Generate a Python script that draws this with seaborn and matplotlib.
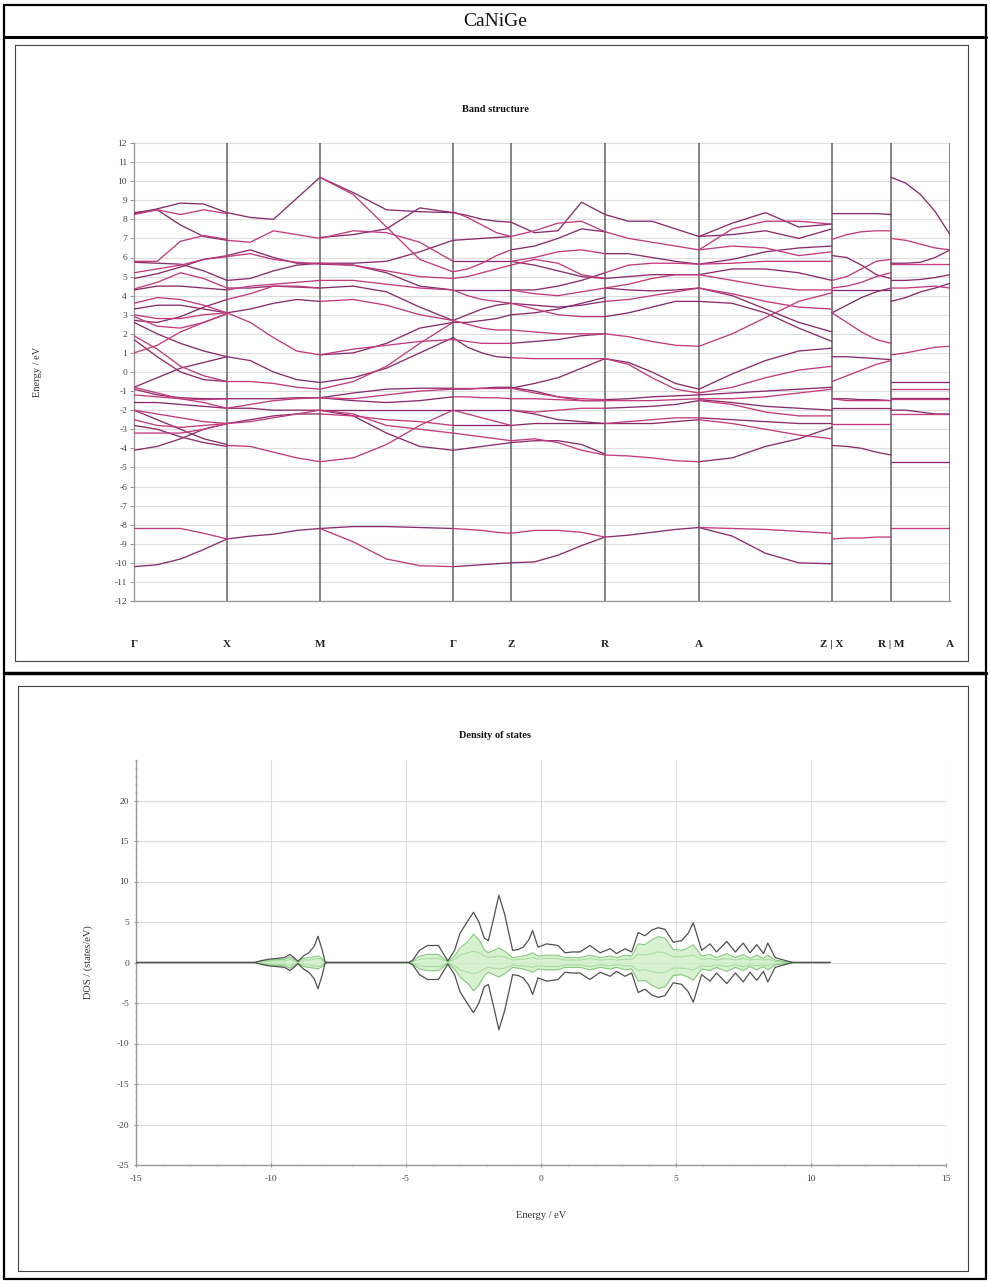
import numpy as np
import pandas as pd
import matplotlib
matplotlib.use('Agg')
import matplotlib.pyplot as plt
import seaborn as sns
from matplotlib.lines import Line2D
from matplotlib.ticker import MultipleLocator

# ---------------- data ----------------
title_main = "CaNiGe"
kpath = [0, 93, 186, 319, 377, 471, 565, 698, 757, 816]
klabels = ['Γ', 'X', 'M', 'Γ', 'Z', 'R', 'A', 'Z | X', 'R | M', 'A']
frac = [0.0, 0.25, 0.5, 0.75, 1.0]

bands_G_X = [
    [8.30, 8.55, 8.85, 8.80, 8.35], [8.25, 8.50, 8.25, 8.50, 8.30],
    [8.35, 8.50, 7.70, 7.10, 6.90], [5.80, 5.80, 6.85, 7.15, 6.95],
    [5.75, 5.70, 5.65, 5.30, 4.80], [5.20, 5.40, 5.60, 5.90, 6.10],
    [4.90, 5.15, 5.50, 5.90, 6.05], [4.35, 4.70, 5.20, 4.90, 4.40],
    [4.30, 4.50, 4.50, 4.40, 4.30], [3.60, 3.90, 3.80, 3.50, 3.10],
    [3.30, 3.50, 3.50, 3.30, 3.10], [3.00, 2.80, 2.80, 3.00, 3.10],
    [2.70, 2.60, 2.90, 3.40, 3.80], [2.90, 2.40, 2.30, 2.60, 3.05],
    [2.60, 2.00, 1.50, 1.10, 0.80], [1.90, 1.20, 0.30, -0.20, -0.50],
    [1.70, 0.80, 0.00, -0.40, -0.50], [1.00, 1.40, 2.10, 2.60, 3.05],
    [-0.80, -0.30, 0.20, 0.50, 0.80], [-0.80, -1.10, -1.40, -1.60, -1.90],
    [-0.90, -1.20, -1.35, -1.40, -1.40], [-1.20, -1.30, -1.40, -1.45, -1.40],
    [-1.60, -1.60, -1.70, -1.80, -1.90], [-2.00, -2.20, -2.40, -2.60, -2.70],
    [-2.00, -2.50, -3.00, -3.50, -3.80], [-2.50, -2.80, -2.90, -2.80, -2.70],
    [-2.80, -3.00, -3.40, -3.70, -3.90], [-3.20, -3.20, -3.20, -3.00, -2.70],
    [-4.10, -3.90, -3.50, -3.00, -2.70], [-8.20, -8.20, -8.20, -8.45, -8.75],
    [-10.20, -10.10, -9.80, -9.30, -8.75],
]
bands_X_M = [
    [8.35, 8.10, 8.00, 9.10, 10.20], [6.90, 6.80, 7.40, 7.20, 7.00],
    [6.10, 6.40, 6.00, 5.70, 5.70], [6.05, 6.20, 5.90, 5.75, 5.65],
    [4.80, 4.90, 5.30, 5.60, 5.70], [4.30, 4.50, 4.60, 4.70, 4.80],
    [4.40, 4.40, 4.50, 4.45, 4.40], [3.80, 4.10, 4.50, 4.50, 4.40],
    [3.10, 3.30, 3.60, 3.80, 3.70], [3.10, 2.60, 1.80, 1.10, 0.90],
    [0.80, 0.60, 0.00, -0.40, -0.55], [-0.50, -0.50, -0.60, -0.80, -0.90],
    [-1.40, -1.40, -1.40, -1.35, -1.35], [-1.90, -1.70, -1.50, -1.40, -1.35],
    [-1.90, -1.90, -2.00, -2.00, -2.00], [-2.70, -2.60, -2.40, -2.20, -2.00],
    [-2.70, -2.50, -2.30, -2.20, -2.20], [-3.85, -3.90, -4.20, -4.50, -4.70],
    [-8.75, -8.60, -8.50, -8.30, -8.20],
]
bands_M_G = [
    [10.20, 9.40, 8.50, 8.40, 8.35], [10.20, 9.30, 7.60, 5.90, 5.25],
    [7.05, 7.20, 7.50, 8.60, 8.35], [7.00, 7.40, 7.30, 6.80, 5.80],
    [5.70, 5.70, 5.80, 6.30, 6.90], [5.70, 5.60, 5.30, 5.00, 4.90],
    [5.65, 5.60, 5.20, 4.50, 4.30], [4.80, 4.80, 4.60, 4.40, 4.30],
    [4.40, 4.50, 4.20, 3.40, 2.70], [3.70, 3.80, 3.50, 3.00, 2.70],
    [0.90, 1.00, 1.50, 2.30, 2.60], [0.90, 1.20, 1.40, 1.60, 1.70],
    [-0.55, -0.30, 0.20, 1.00, 1.80], [-0.90, -0.50, 0.30, 1.50, 2.60],
    [-1.35, -1.10, -0.90, -0.85, -0.85], [-1.35, -1.40, -1.20, -1.00, -0.90],
    [-1.35, -1.50, -1.60, -1.50, -1.30], [-2.00, -2.20, -2.80, -3.00, -3.20],
    [-2.00, -2.30, -3.20, -3.90, -4.10], [-2.20, -2.30, -2.50, -2.60, -2.80],
    [-2.00, -2.00, -2.00, -2.00, -2.00], [-4.70, -4.50, -3.80, -2.80, -2.00],
    [-8.20, -8.10, -8.10, -8.15, -8.20], [-8.20, -8.90, -9.80, -10.15, -10.20],
]
bands_G_Z = [
    [8.35, 8.20, 8.00, 7.90, 7.85], [8.40, 8.10, 7.70, 7.30, 7.10],
    [6.90, 6.95, 7.00, 7.05, 7.10], [5.25, 5.40, 5.70, 6.10, 6.40],
    [5.80, 5.80, 5.80, 5.80, 5.80], [4.90, 5.00, 5.20, 5.40, 5.60],
    [4.30, 4.30, 4.30, 4.30, 4.30], [4.30, 4.00, 3.80, 3.70, 3.60],
    [2.70, 3.00, 3.30, 3.50, 3.60], [2.70, 2.50, 2.30, 2.20, 2.20],
    [2.60, 2.60, 2.70, 2.80, 3.00], [1.70, 1.60, 1.50, 1.50, 1.50],
    [1.80, 1.30, 1.00, 0.80, 0.75], [-0.85, -0.85, -0.85, -0.85, -0.85],
    [-0.90, -0.90, -0.85, -0.80, -0.80], [-1.30, -1.30, -1.35, -1.35, -1.40],
    [-2.00, -2.00, -2.00, -2.00, -2.00], [-2.00, -2.20, -2.40, -2.60, -2.80],
    [-2.80, -2.80, -2.80, -2.80, -2.80], [-3.20, -3.30, -3.40, -3.50, -3.60],
    [-4.10, -4.00, -3.90, -3.80, -3.70], [-8.20, -8.25, -8.30, -8.40, -8.45],
    [-10.20, -10.15, -10.10, -10.05, -10.00],
]
bands_Z_R = [
    [7.85, 7.30, 7.40, 8.90, 8.25], [7.10, 7.40, 7.80, 7.90, 7.35],
    [6.40, 6.60, 7.00, 7.50, 7.35], [5.80, 6.00, 6.30, 6.40, 6.20],
    [5.80, 5.60, 5.30, 5.00, 4.90], [5.60, 5.90, 5.70, 5.10, 4.90],
    [4.30, 4.30, 4.50, 4.80, 5.20], [4.30, 4.10, 4.00, 4.20, 4.40],
    [3.60, 3.50, 3.40, 3.50, 3.70], [3.60, 3.30, 3.00, 2.90, 2.90],
    [3.00, 3.10, 3.30, 3.60, 3.90], [2.20, 2.10, 2.00, 2.00, 2.00],
    [1.50, 1.60, 1.70, 1.90, 2.00], [0.75, 0.70, 0.70, 0.70, 0.70],
    [-0.85, -0.60, -0.30, 0.20, 0.70], [-0.85, -1.10, -1.30, -1.40, -1.45],
    [-0.80, -1.00, -1.30, -1.50, -1.50], [-1.40, -1.40, -1.45, -1.50, -1.50],
    [-2.00, -2.20, -2.50, -2.60, -2.70], [-2.00, -2.10, -2.00, -1.90, -1.90],
    [-2.80, -2.70, -2.70, -2.70, -2.70], [-3.60, -3.50, -3.70, -4.10, -4.35],
    [-3.70, -3.60, -3.60, -3.80, -4.30], [-8.45, -8.30, -8.30, -8.40, -8.65],
    [-10.00, -9.95, -9.60, -9.10, -8.65],
]
bands_R_A = [
    [8.25, 7.90, 7.90, 7.50, 7.10], [7.35, 7.00, 6.80, 6.60, 6.40],
    [6.20, 6.20, 6.00, 5.80, 5.65], [5.20, 5.60, 5.70, 5.70, 5.65],
    [4.90, 5.00, 5.10, 5.10, 5.10], [4.40, 4.60, 4.90, 5.10, 5.10],
    [4.40, 4.30, 4.25, 4.30, 4.40], [3.70, 3.80, 4.00, 4.20, 4.40],
    [2.90, 3.10, 3.40, 3.70, 3.70], [2.00, 1.85, 1.60, 1.40, 1.35],
    [0.70, 0.50, 0.00, -0.60, -0.90], [0.70, 0.40, -0.30, -0.90, -1.10],
    [-1.45, -1.40, -1.30, -1.25, -1.20], [-1.50, -1.50, -1.50, -1.45, -1.40],
    [-1.90, -1.85, -1.80, -1.70, -1.50], [-2.70, -2.60, -2.50, -2.40, -2.40],
    [-2.70, -2.70, -2.70, -2.60, -2.50], [-4.35, -4.40, -4.50, -4.65, -4.70],
    [-8.65, -8.55, -8.40, -8.25, -8.15],
]
bands_A_Z = [
    [7.10, 7.80, 8.35, 7.60, 7.75], [6.40, 7.50, 7.90, 7.90, 7.75],
    [7.10, 7.20, 7.40, 7.00, 7.50], [6.40, 6.60, 6.50, 6.10, 6.30],
    [5.65, 5.90, 6.30, 6.50, 6.60], [5.65, 5.70, 5.80, 5.80, 5.80],
    [5.10, 5.40, 5.40, 5.20, 4.80], [5.10, 4.80, 4.50, 4.30, 4.30],
    [4.40, 4.00, 3.30, 2.60, 2.10], [4.40, 4.10, 3.70, 3.40, 3.30],
    [3.70, 3.60, 3.10, 2.30, 1.60], [1.35, 2.00, 2.85, 3.70, 4.15],
    [-0.90, -0.10, 0.60, 1.10, 1.25], [-1.10, -0.80, -0.30, 0.10, 0.30],
    [-1.20, -1.10, -1.00, -0.90, -0.80], [-1.40, -1.40, -1.30, -1.10, -0.90],
    [-1.45, -1.60, -1.80, -1.90, -2.00], [-1.50, -1.70, -2.10, -2.30, -2.30],
    [-2.40, -2.50, -2.60, -2.70, -2.70], [-2.50, -2.70, -3.00, -3.30, -3.50],
    [-4.70, -4.50, -3.90, -3.50, -2.90], [-8.15, -8.20, -8.25, -8.35, -8.45],
    [-8.15, -8.60, -9.50, -10.00, -10.05],
]
bands_X_R = [
    [8.30, 8.30, 8.30, 8.30, 8.25], [6.95, 7.20, 7.35, 7.40, 7.40],
    [6.10, 6.00, 5.60, 5.10, 4.90], [4.80, 5.00, 5.40, 5.80, 5.90],
    [4.30, 4.30, 4.30, 4.30, 4.30], [4.40, 4.50, 4.70, 5.00, 5.20],
    [3.10, 3.50, 3.90, 4.20, 4.40], [3.10, 2.60, 2.10, 1.70, 1.50],
    [0.80, 0.80, 0.75, 0.70, 0.65], [-0.50, -0.20, 0.10, 0.40, 0.60],
    [-1.40, -1.40, -1.45, -1.45, -1.50], [-1.40, -1.50, -1.50, -1.50, -1.50],
    [-1.90, -1.90, -1.90, -1.90, -1.90], [-2.70, -2.70, -2.70, -2.70, -2.70],
    [-3.85, -3.90, -4.00, -4.20, -4.35], [-8.75, -8.70, -8.70, -8.65, -8.65],
]
bands_M_A = [
    [10.20, 9.90, 9.30, 8.40, 7.20], [7.00, 6.90, 6.70, 6.50, 6.40],
    [5.70, 5.70, 5.75, 6.00, 6.40], [5.65, 5.65, 5.65, 5.65, 5.65],
    [4.80, 4.80, 4.85, 4.95, 5.10], [4.40, 4.40, 4.45, 4.50, 4.40],
    [3.70, 3.90, 4.20, 4.40, 4.65], [0.90, 1.00, 1.15, 1.30, 1.35],
    [-0.55, -0.55, -0.55, -0.55, -0.55], [-0.90, -0.90, -0.90, -0.90, -0.90],
    [-1.35, -1.35, -1.35, -1.35, -1.35], [-1.40, -1.40, -1.40, -1.40, -1.40],
    [-2.00, -2.00, -2.10, -2.20, -2.20], [-2.20, -2.20, -2.20, -2.20, -2.20],
    [-4.70, -4.70, -4.70, -4.70, -4.70], [-8.20, -8.20, -8.20, -8.20, -8.20],
]

dos_energy = [-15.0, -10.6, -10.4, -10.1, -9.8, -9.5, -9.3, -9.15, -9.0, -8.8,
              -8.6, -8.4, -8.26, -8.1, -8.0, -7.9, -4.9, -4.75, -4.5, -4.2,
              -3.8, -3.6, -3.45, -3.2, -3.0, -2.7, -2.5, -2.3, -2.1, -1.95,
              -1.75, -1.56, -1.35, -1.05, -0.85, -0.66, -0.45, -0.31, -0.11, 0.21,
              0.63, 0.89, 1.15, 1.44, 1.81, 2.19, 2.56, 2.8, 3.11, 3.36,
              3.6, 3.85, 4.1, 4.34, 4.59, 4.9, 5.21, 5.45, 5.64, 5.95,
              6.26, 6.5, 6.88, 7.2, 7.49, 7.74, 7.99, 8.24, 8.4, 8.67,
              9.1, 9.35, 9.6, 10.7]
dos_total = [0.0, 0.0, 0.2, 0.4, 0.5, 0.6, 1.0, 0.6, 0.15, 0.8,
             1.2, 2.0, 3.25, 1.5, 0.1, 0.0, 0.0, 0.3, 1.5, 2.1,
             2.1, 1.0, 0.2, 1.5, 3.6, 5.2, 6.2, 5.0, 3.0, 2.7,
             5.5, 8.3, 6.0, 1.5, 1.6, 1.9, 2.8, 3.95, 1.9, 2.3,
             2.1, 1.2, 1.3, 1.3, 2.1, 1.2, 1.7, 1.1, 1.7, 1.3,
             3.7, 3.3, 4.0, 4.3, 4.1, 2.5, 2.7, 3.6, 4.9, 1.5,
             2.3, 1.3, 2.6, 1.3, 2.4, 1.2, 2.2, 1.1, 2.4, 0.6,
             0.2, 0.0, 0.0, 0.0]
dos_part1 = [0.0, 0.0, 0.15, 0.3, 0.35, 0.4, 0.7, 0.4, 0.1, 0.5,
             0.6, 0.7, 0.8, 0.5, 0.05, 0.0, 0.0, 0.2, 0.8, 1.0,
             1.0, 0.5, 0.1, 0.8, 1.8, 2.6, 3.5, 2.8, 1.6, 1.2,
             1.5, 1.8, 1.4, 0.6, 0.7, 0.8, 1.0, 1.2, 0.8, 0.9,
             0.9, 0.6, 0.6, 0.6, 0.9, 0.6, 0.8, 0.6, 0.9, 0.8,
             2.3, 2.2, 2.8, 3.2, 3.0, 1.6, 1.5, 1.8, 2.2, 0.8,
             1.0, 0.6, 1.1, 0.6, 1.0, 0.5, 0.9, 0.5, 0.9, 0.3,
             0.1, 0.0, 0.0, 0.0]
dos_part2 = [0.0, 0.0, 0.1, 0.15, 0.2, 0.2, 0.4, 0.2, 0.05, 0.3,
             0.3, 0.4, 0.5, 0.3, 0.0, 0.0, 0.0, 0.1, 0.4, 0.5,
             0.5, 0.3, 0.05, 0.4, 0.9, 1.2, 1.4, 1.2, 0.8, 0.6,
             0.7, 0.8, 0.7, 0.3, 0.4, 0.4, 0.5, 0.6, 0.4, 0.5,
             0.5, 0.3, 0.3, 0.3, 0.5, 0.3, 0.4, 0.3, 0.4, 0.4,
             1.0, 0.9, 1.1, 1.3, 1.2, 0.7, 0.7, 0.8, 0.9, 0.4,
             0.5, 0.3, 0.5, 0.3, 0.5, 0.3, 0.4, 0.3, 0.4, 0.15,
             0.05, 0.0, 0.0, 0.0]

# ---------------- style ----------------
sns.set_theme(style='white')
plt.rcParams['font.family'] = ['Liberation Serif', 'DejaVu Serif']
plt.rcParams['axes.unicode_minus'] = False

W, H = 990, 1281
fig = plt.figure(figsize=(W / 100, H / 100), dpi=100)

def fx(px):
    return px / W

def fy(py):
    return 1 - py / H

def hline(x0, x1, y, lw, color='black'):
    fig.add_artist(Line2D([fx(x0), fx(x1)], [fy(y), fy(y)], lw=lw, color=color))

def vline(x, y0, y1, lw, color='black'):
    fig.add_artist(Line2D([fx(x), fx(x)], [fy(y0), fy(y1)], lw=lw, color=color))

# table frame
hline(4, 986, 5, 1.6)
hline(4, 986, 1279, 1.6)
vline(4, 5, 1279, 1.6)
vline(986, 5, 1279, 1.6)
hline(4, 986, 37, 2.2)
hline(4, 986, 673, 2.5)
# inner panel boxes
for (x0, y0, x1, y1) in [(15, 45, 968, 661), (18, 686, 968, 1271)]:
    hline(x0, x1, y0, 0.8, '#444444')
    hline(x0, x1, y1, 0.8, '#444444')
    vline(x0, y0, y1, 0.8, '#444444')
    vline(x1, y0, y1, 0.8, '#444444')

fig.text(0.5, fy(21), title_main, ha='center', va='center', fontsize=14,
         fontstretch='condensed', color='#111111')

# ---------------- band structure ----------------
segments = [(0, 1, bands_G_X), (1, 2, bands_X_M), (2, 3, bands_M_G),
            (3, 4, bands_G_Z), (4, 5, bands_Z_R), (5, 6, bands_R_A),
            (6, 7, bands_A_Z), (7, 8, bands_X_R), (8, 9, bands_M_A)]
rows = []
for s, (i0, i1, bands) in enumerate(segments):
    k0, k1 = kpath[i0], kpath[i1]
    for b, vals in enumerate(bands):
        for f, e in zip(frac, vals):
            rows.append({'k': k0 + f * (k1 - k0), 'E': e,
                         'uid': f'{s}-{b}', 'tone': b % 2})
df_bands = pd.DataFrame(rows)

ax = fig.add_axes([fx(134), fy(601), fx(950) - fx(134), fy(143) - fy(601)])
ax.set_xlim(kpath[0], kpath[-1])
ax.set_ylim(-12, 12)
ax.set_yticks(range(-12, 13))
ax.set_yticklabels([str(v) for v in range(-12, 13)])
ax.grid(axis='y', color='#dedede', lw=0.8)
ax.set_axisbelow(True)
for k in kpath:
    ax.axvline(k, color='#6e6e6e', lw=1.2, zorder=1)
sns.lineplot(data=df_bands, x='k', y='E', units='uid', estimator=None,
             hue='tone', palette=['#8a2c6c', '#c23b7c'], lw=0.95,
             legend=False, ax=ax, zorder=3)
ax.set_xticks(kpath)
ax.set_xticklabels(klabels, fontweight='bold')
ax.tick_params(axis='x', length=0, pad=28, labelsize=8, colors='#222222')
ax.tick_params(axis='y', length=3, width=0.8, color='#999999', direction='out',
               labelsize=6.8, labelcolor='#444444', pad=2)
ax.tick_params(axis='y', which='both', left=True)
for sp in ['top', 'right']:
    ax.spines[sp].set_visible(False)
for sp in ['left', 'bottom']:
    ax.spines[sp].set_color('#999999')
    ax.spines[sp].set_linewidth(1.0)
ax.set_xlabel('')
ax.set_ylabel('')
fig.text(0.5, fy(110), 'Band structure', ha='center', va='center',
         fontsize=7.5, fontweight='bold', color='#111111')
fig.text(fx(38), fy(372), 'Energy / eV', ha='center', va='center',
         rotation=90, fontsize=7.5, color='#333333')

# ---------------- density of states ----------------
E = np.array(dos_energy)
tot = np.array(dos_total)
p1 = np.array(dos_part1)
p2 = np.array(dos_part2)

ax2 = fig.add_axes([fx(136), fy(1165), fx(946) - fx(136), fy(760) - fy(1165)])
ax2.set_xlim(-15, 15)
ax2.set_ylim(-25, 25)
ax2.set_xticks(range(-15, 16, 5))
ax2.set_yticks(range(-25, 21, 5))
ax2.xaxis.set_minor_locator(MultipleLocator(1))
ax2.yaxis.set_minor_locator(MultipleLocator(1))
ax2.grid(True, which='major', color='#dcdcdc', lw=0.8)
ax2.set_axisbelow(True)
ax2.fill_between(E, -p1, p1, color='#cdeec6', alpha=0.8, lw=0, zorder=2)
sns.lineplot(x=E, y=p2, color='#a9dca3', lw=0.8, ax=ax2, zorder=3)
sns.lineplot(x=E, y=-p2, color='#a9dca3', lw=0.8, ax=ax2, zorder=3)
sns.lineplot(x=E, y=p1, color='#86c97e', lw=0.8, ax=ax2, zorder=3)
sns.lineplot(x=E, y=-p1, color='#86c97e', lw=0.8, ax=ax2, zorder=3)
sns.lineplot(x=E, y=tot, color='#505050', lw=0.9, ax=ax2, zorder=4)
sns.lineplot(x=E, y=-tot, color='#505050', lw=0.9, ax=ax2, zorder=4)
ax2.tick_params(axis='both', which='major', length=3, width=0.8,
                color='#999999', direction='inout', labelsize=6.8,
                labelcolor='#444444')
ax2.tick_params(axis='both', which='minor', length=2, width=0.6,
                color='#aaaaaa', direction='inout')
ax2.tick_params(axis='x', pad=6)
ax2.tick_params(bottom=True, left=True, which='both')
for sp in ['top', 'right']:
    ax2.spines[sp].set_visible(False)
for sp in ['left', 'bottom']:
    ax2.spines[sp].set_color('#999999')
    ax2.spines[sp].set_linewidth(1.0)
ax2.set_xlabel('')
ax2.set_ylabel('')
fig.text(0.5, fy(735), 'Density of states', ha='center', va='center',
         fontsize=7.5, fontweight='bold', color='#111111')
fig.text(fx(88), fy(962), 'DOS / (states/eV)', ha='center', va='center',
         rotation=90, fontsize=7.5, color='#333333')
fig.text(fx(541), fy(1215), 'Energy / eV', ha='center', va='center',
         fontsize=7.5, color='#333333')

fig.savefig('out.png', dpi=100)
